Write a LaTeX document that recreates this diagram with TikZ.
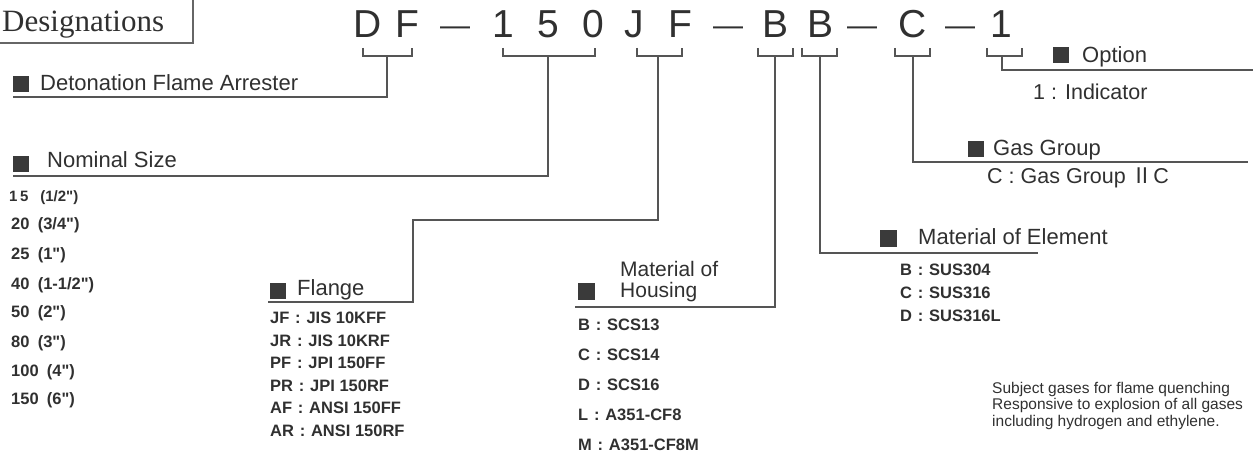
\documentclass[tikz,border=0pt]{standalone}
\usepackage{fontspec}
\newfontfamily\labelfont{Liberation Sans}
\newfontfamily\desfont{Liberation Serif}
\newfontfamily\cjkfont{Noto Sans CJK JP}
\definecolor{inkgray}{HTML}{303030}
\definecolor{rulegray}{HTML}{555555}
\definecolor{markgray}{HTML}{3a3a3a}
\newcommand\kc{\hspace{0.35em}:\hspace{0.35em}}
\newcommand\inch{"}
\tikzset{
  letter/.style={font=\labelfont\fontsize{39}{40}\selectfont, text=inkgray, inner sep=0pt, anchor=base},
  dashmark/.style={font=\labelfont\fontsize{30}{30}\selectfont, text=inkgray, inner sep=0pt, anchor=base},
  heading/.style={font=\labelfont\fontsize{22}{19}\selectfont, text=inkgray, inner sep=0pt, anchor=base west, align=left},
  item/.style={font=\labelfont\bfseries\fontsize{16.5}{18}\selectfont, text=inkgray, inner sep=0pt, anchor=west},
  valtext/.style={font=\labelfont\fontsize{21.5}{22}\selectfont, text=inkgray, inner sep=0pt, anchor=west},
  note/.style={font=\labelfont\fontsize{15.5}{16.5}\selectfont, text=inkgray, inner sep=0pt, anchor=north west, align=left},
  sqmark/.style={fill=markgray, minimum size=16pt, inner sep=0pt, anchor=north west},
  leader/.style={draw=rulegray, line width=1.5pt},
}

\begin{document}
\begin{tikzpicture}[x=1pt,y=-1pt]
  \useasboundingbox (0,0) rectangle (1256,454);

  % title box
  \draw[draw=gray!80!black, line width=2pt] (-4,-4) rectangle (193,43);
  \node[anchor=base west, font=\desfont\fontsize{31}{32}\selectfont, text=inkgray, inner sep=0pt] (title) at (2,32) {Designations};

  % model code
  \node[letter] (cD)  at (368,38) {D};
  \node[letter] (cF)  at (407,38) {F};
  \node[dashmark] (d1) at (455,36) {—};
  \node[letter] (c1)  at (503,38) {1};
  \node[letter] (c5)  at (548,38) {5};
  \node[letter] (c0)  at (593,38) {0};
  \node[letter] (cJ)  at (634,38) {J};
  \node[letter] (cF2) at (680,38) {F};
  \node[dashmark] (d2) at (728,36) {—};
  \node[letter] (cB)  at (775,38) {B};
  \node[letter] (cB2) at (820,38) {B};
  \node[dashmark] (d3) at (862,36) {—};
  \node[letter] (cC)  at (913,38) {C};
  \node[dashmark] (d4) at (960,36) {—};
  \node[letter] (c1b) at (1001,38) {1};

  % brackets
  \draw[leader] (363,48) |- (412,56) -- (412,48);
  \draw[leader] (503,48) |- (595,56) -- (595,48);
  \draw[leader] (637,48) |- (682,56) -- (682,48);
  \draw[leader] (758,48) |- (793,56) -- (793,48);
  \draw[leader] (802,48) |- (837,56) -- (837,48);
  \draw[leader] (895,48) |- (930,56) -- (930,48);
  \draw[leader] (987,48) |- (1022,56) -- (1022,48);

  \coordinate (sDF) at (387,56);
  \coordinate (sSize) at (548,56);
  \coordinate (sFlg) at (658,56);
  \coordinate (sHsg) at (775,56);
  \coordinate (sElm) at (820,56);
  \coordinate (sGas) at (913,56);
  \coordinate (sOpt) at (1002,56);

  \coordinate (eDF) at (13,97);
  \coordinate (eSize) at (13,176);
  \coordinate (eFlg) at (268,302);
  \coordinate (eHsg) at (575,307);
  \coordinate (eElm) at (1038,253);
  \coordinate (eGas) at (1248,162);
  \coordinate (eOpt) at (1253,70);

  \draw[leader] (sDF) |- (eDF);
  \draw[leader] (sSize) |- (eSize);
  \draw[leader] (sFlg) |- (413,220) |- (eFlg);
  \draw[leader] (sHsg) |- (eHsg);
  \draw[leader] (sElm) |- (eElm);
  \draw[leader] (sGas) |- (eGas);
  \draw[leader] (sOpt) |- (eOpt);

  % Detonation Flame Arrester
  \node[sqmark] (mDF) at (13,76) {};
  \node[heading] (hDF) at (40,91) {Detonation Flame Arrester};

  % Nominal size
  \node[sqmark] (mSize) at (13,156) {};
  \node[heading] (hSize) at (47,168) {Nominal Size};
  \node[item, font=\labelfont\bfseries\fontsize{15}{16}\selectfont] (n15) at (9,198) {1\,5\hspace{0.8em}(1/2\inch)};
  \node[item] (n20) at (11,225) {20\hspace{0.5em}(3/4\inch)};
  \node[item] (n25) at (11,255) {25\hspace{0.5em}(1\inch)};
  \node[item] (n40) at (11,285) {40\hspace{0.5em}(1-1/2\inch)};
  \node[item] (n50) at (11,313) {50\hspace{0.5em}(2\inch)};
  \node[item] (n80) at (11,343) {80\hspace{0.5em}(3\inch)};
  \node[item] (n100) at (11,372) {100\hspace{0.5em}(4\inch)};
  \node[item] (n150) at (11,400) {150\hspace{0.5em}(6\inch)};

  % Flange
  \node[sqmark] (mFlg) at (270,283) {};
  \node[heading] (hFlg) at (297,296) {Flange};
  \node[item] (fJF) at (270,318) {JF\kc JIS 10KFF};
  \node[item] (fJR) at (270,340.5) {JR\kc JIS 10KRF};
  \node[item] (fPF) at (270,363) {PF\kc JPI 150FF};
  \node[item] (fPR) at (270,385.5) {PR\kc JPI 150RF};
  \node[item] (fAF) at (270,408) {AF\kc ANSI 150FF};
  \node[item] (fAR) at (270,430.5) {AR\kc ANSI 150RF};

  % Material of housing
  \node[sqmark, minimum size=17pt] (mHsg) at (578,283) {};
  \node[heading, font=\labelfont\fontsize{21}{21}\selectfont, anchor=south west] (hHsg) at (620,302) {Material of\\Housing};
  \node[item] (hB) at (578,325) {B\kc SCS13};
  \node[item] (hC) at (578,355) {C\kc SCS14};
  \node[item] (hD) at (578,385) {D\kc SCS16};
  \node[item] (hL) at (578,415) {L\kc A351-CF8};
  \node[item] (hM) at (578,445) {M\kc A351-CF8M};

  % Material of element
  \node[sqmark, minimum size=17pt] (mElm) at (880,230) {};
  \node[heading] (hElm) at (918,245) {Material of Element};
  \node[item] (eB) at (900,270) {B\kc SUS304};
  \node[item] (eC) at (900,293) {C\kc SUS316};
  \node[item] (eD) at (900,316) {D\kc SUS316L};

  % Gas group
  \node[sqmark] (mGas) at (968,141) {};
  \node[heading] (hGas) at (993,156) {Gas Group};
  \node[valtext] (gC) at (987,178) {C : Gas Group {\cjkfont Ⅱ}C};

  % Option
  \node[sqmark] (mOpt) at (1053,47) {};
  \node[heading] (hOpt) at (1082,63) {Option};
  \node[valtext] (o1) at (1033,92) {1 : Indicator};

  % note
  \node[note] (gases) at (992,382) {Subject gases for flame quenching\\Responsive to explosion of all gases\\including hydrogen and ethylene.};
\end{tikzpicture}
\end{document}
